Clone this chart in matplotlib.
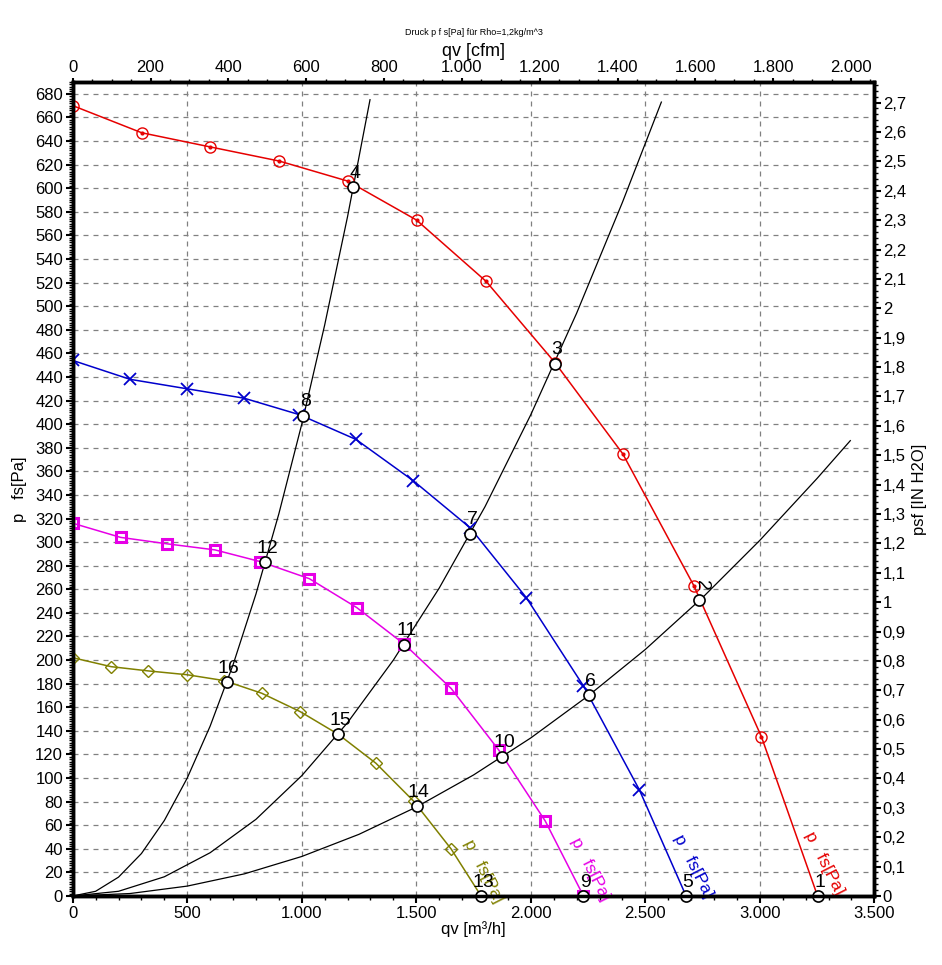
import matplotlib
matplotlib.use("Agg")
import matplotlib.pyplot as plt
from matplotlib.ticker import MultipleLocator, FuncFormatter

plt.rcParams['font.family'] = ['Liberation Sans', 'DejaVu Sans']

# fan curves p_fs [Pa] over qv [m3/h]
red_q = [0, 301, 600, 902, 1201, 1501, 1805, 2106, 2401, 2712, 3007, 3252]
red_p = [670, 647, 635, 623, 606, 573, 521, 452, 375, 263, 135, 0]

blue_q = [0, 250, 498, 748, 990, 1237, 1487, 1736, 1980, 2230, 2474, 2678]
blue_p = [454, 438, 430, 422, 408, 387, 352, 312, 253, 178, 90, 0]

mag_q = [0, 209, 413, 621, 818, 1033, 1240, 1448, 1652, 1859, 2063, 2230]
mag_p = [316, 304, 298.5, 293.4, 283.5, 269, 244.5, 213.4, 176, 124, 63.6, 0]

olive_q = [0, 168, 330, 498, 661, 825, 993, 1160, 1324, 1488, 1652, 1783]
olive_p = [202, 194.4, 190.8, 187.6, 182.6, 171.9, 156.3, 137, 112.5, 80.5, 39.9, 0]

# system curves (black)
sysA_q = [0, 100, 200, 300, 400, 500, 600, 700, 800, 900, 1000, 1100, 1200, 1298]
sysA_p = [0, 4, 16, 36, 64, 100, 144, 196, 256, 324, 400, 484, 576, 675]
sysB_q = [0, 200, 400, 600, 800, 1000, 1200, 1400, 1600, 1800, 2000, 2200, 2400, 2570]
sysB_p = [0, 4, 16.3, 36.7, 65, 102, 147, 200, 261, 330, 408, 494, 588, 673]
sysC_q = [0, 250, 500, 750, 1000, 1250, 1500, 1750, 2000, 2250, 2500, 2750, 3000, 3250, 3395]
sysC_p = [0, 2.1, 8.4, 18.8, 33.5, 52.3, 75.4, 102.6, 134, 169.6, 209, 253, 301.5, 354, 386]

# operating points 1..16
op_q = [3252, 2736, 2106, 1225, 2678, 2252, 1735, 1007, 2230, 1875, 1447, 840, 1783, 1501, 1160, 672]
op_p = [0, 251, 451, 601, 0, 170, 307, 407, 0, 118, 213, 283, 0, 76, 137, 181]

PA_PER_INH2O = 249.089
CFM_PER_M3H = 0.588578

fig = plt.figure(figsize=(9.42, 9.65), dpi=100)
ax = fig.add_axes([0.0772, 0.0715, 0.851, 0.8435])

xmax, ymax = 3500, 690
ax.set_xlim(0, xmax)
ax.set_ylim(0, ymax)

ax.grid(True, which='major', color='#808080', linestyle=(0, (4, 4)), linewidth=0.9)

for q, p in [(sysA_q, sysA_p), (sysB_q, sysB_p), (sysC_q, sysC_p)]:
    ax.plot(q, p, color='black', linewidth=0.9, zorder=3)

lw = 1.1
ax.plot(red_q, red_p, color='#e60000', linewidth=lw, marker='o', markersize=8,
        markerfacecolor='none', markevery=list(range(len(red_q) - 1)), zorder=4)
ax.plot(red_q[:-1], red_p[:-1], linestyle='none', color='#e60000', marker='o', markersize=2, zorder=4)
ax.plot(blue_q, blue_p, color='#0000cc', linewidth=lw, marker='x', markersize=9,
        markeredgewidth=1.3, markevery=list(range(len(blue_q) - 1)), zorder=4)
ax.plot(mag_q, mag_p, color='#e600e6', linewidth=lw, marker='s', markersize=7.5,
        markerfacecolor='none', markeredgewidth=2.2, zorder=4)
ax.plot(olive_q, olive_p, color='#808000', linewidth=lw, marker='D', markersize=6.5,
        markerfacecolor='none', markevery=list(range(len(olive_q) - 1)), zorder=4)

ax.plot(op_q, op_p, linestyle='none', marker='o', markersize=8, markerfacecolor='white',
        markeredgecolor='black', markeredgewidth=1.2, zorder=6, clip_on=False)
for i, (q, p) in enumerate(zip(op_q, op_p)):
    rot = -90 if i + 1 == 2 else 0
    ax.annotate(str(i + 1), (q, p), xytext=(2, 14), textcoords='offset pixels',
                ha='center', va='center', fontsize=14, rotation=rot, zorder=7)

# curve labels
lbl = 'p   fs[Pa]'
for q, p, c in [(3280, 28, '#e60000'), (2708, 25, '#0000cc'), (2258, 23, '#e600e6'), (1793, 21, '#808000')]:
    ax.text(q, p, lbl, color=c, fontsize=12.5, rotation=-63, ha='center', va='center',
            rotation_mode='anchor', zorder=5)

# bottom / left axis
ax.xaxis.set_major_locator(MultipleLocator(500))
ax.xaxis.set_minor_locator(MultipleLocator(100))
ax.yaxis.set_major_locator(MultipleLocator(20))
ax.yaxis.set_minor_locator(MultipleLocator(2))
ax.xaxis.set_major_formatter(FuncFormatter(lambda v, pos: f"{v:,.0f}".replace(',', '.')))
ax.tick_params(labelsize=12, width=1.5, length=5, pad=2)
ax.tick_params(which='minor', width=1, length=3)
ax.set_xlabel('qv [m³/h]', fontsize=12, labelpad=0)
ax.set_ylabel('p   fs[Pa]', fontsize=12, labelpad=6)
for s in ax.spines.values():
    s.set_linewidth(2.5)

# right axis in IN H2O
axr = ax.twinx()
axr.set_ylim(0, ymax / PA_PER_INH2O)
axr.yaxis.set_major_locator(MultipleLocator(0.1))
axr.yaxis.set_minor_locator(MultipleLocator(0.02))
axr.yaxis.set_major_formatter(FuncFormatter(
    lambda v, pos: f"{v:.1f}".rstrip('0').rstrip('.').replace('.', ',')))
axr.tick_params(labelsize=12, width=1.5, length=5, pad=1)
axr.tick_params(which='minor', width=1, length=3)
axr.set_ylabel('psf [IN H2O]', fontsize=12, labelpad=4)
for s in axr.spines.values():
    s.set_linewidth(2.5)

# top axis in cfm
axt = ax.twiny()
axt.set_xlim(0, xmax * CFM_PER_M3H)
axt.xaxis.set_major_locator(MultipleLocator(200))
axt.xaxis.set_minor_locator(MultipleLocator(50))
axt.xaxis.set_major_formatter(FuncFormatter(lambda v, pos: f"{v:,.0f}".replace(',', '.')))
axt.tick_params(axis='x', which='major', labelsize=12, width=1.5, length=3, pad=2)
axt.tick_params(axis='x', which='minor', width=1, length=2)
axt.set_xlabel('qv [cfm]', fontsize=13, labelpad=3)
axt.set_title('Druck p f s[Pa] für Rho=1,2kg/m^3', fontsize=6.5, pad=6)

fig.savefig('out.png', dpi=100)
